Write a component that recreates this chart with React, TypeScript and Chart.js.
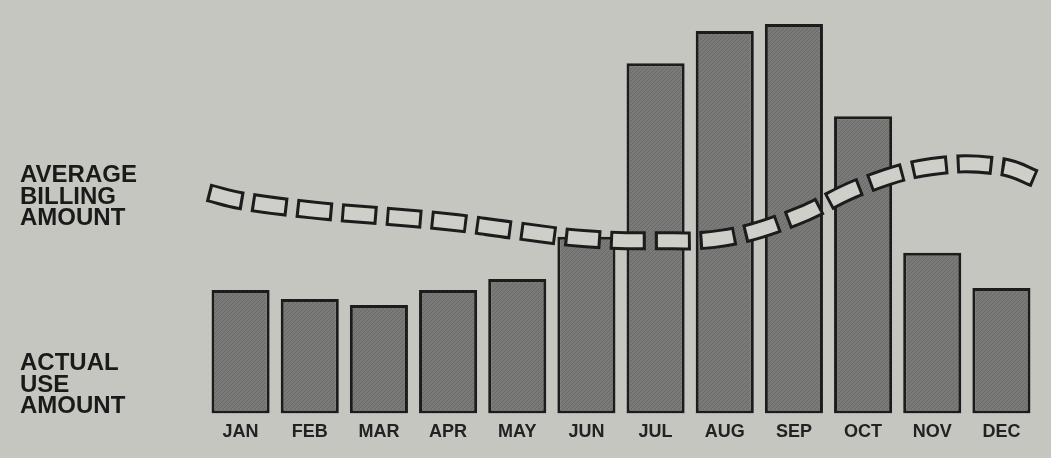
import React, { useEffect, useRef } from "react";
import { Chart, registerables } from "chart.js";

Chart.register(...registerables);

const months = ["JAN", "FEB", "MAR", "APR", "MAY", "JUN", "JUL", "AUG", "SEP", "OCT", "NOV", "DEC"];
const actualUse = [123, 114, 108, 123, 134, 176, 349, 381, 388, 296, 160, 125];
const billingX = [-0.47, 0, 1, 2, 3, 4, 5, 6, 7, 8, 9, 10, 11, 11.56];
const billingY = [220, 212, 203, 197, 191, 182, 174, 172, 175, 195, 227, 246, 246, 232];
const topLabel = ["AVERAGE", "BILLING", "AMOUNT"];
const bottomLabel = ["ACTUAL", "USE", "AMOUNT"];

const BG = "#c6c6c0";
const INK = "#1c1c1c";

function makeHatch(): CanvasPattern | string {
  const c = document.createElement("canvas");
  c.width = 4;
  c.height = 4;
  const g = c.getContext("2d");
  if (!g) return "#777775";
  g.fillStyle = "#7a7a78";
  g.fillRect(0, 0, 4, 4);
  g.fillStyle = "#6a6a68";
  for (let i = 0; i < 4; i++) g.fillRect(i, 3 - i, 1, 1);
  const p = g.createPattern(c, "repeat");
  return p || "#777775";
}

export default function App() {
  const ref = useRef<HTMLCanvasElement | null>(null);

  useEffect(() => {
    if (!ref.current) return;
    const barPts = actualUse.map((v, i) => ({ x: i, y: v }));
    const linePts = billingX.map((x, i) => ({ x, y: billingY[i] }));
    const chart = new Chart(ref.current, {
      type: "bar",
      data: {
        datasets: [
          {
            type: "bar",
            data: barPts,
            backgroundColor: makeHatch(),
            borderColor: INK,
            borderWidth: 3,
            borderSkipped: false,
            barPercentage: 0.84,
            categoryPercentage: 1,
            grouped: false,
            order: 3,
          } as any,
          {
            type: "line",
            data: linePts,
            borderColor: INK,
            borderWidth: 19,
            borderDash: [36, 9],
            borderCapStyle: "butt",
            pointRadius: 0,
            tension: 0.4,
            fill: false,
            clip: false,
            order: 2,
          } as any,
          {
            type: "line",
            data: linePts,
            borderColor: "#cfcfc9",
            borderWidth: 13,
            borderDash: [30, 15],
            borderDashOffset: -3,
            borderCapStyle: "butt",
            pointRadius: 0,
            tension: 0.4,
            fill: false,
            clip: false,
            order: 1,
          } as any,
        ],
      },
      options: {
        animation: false,
        responsive: false,
        events: [],
        layout: { padding: { left: 206, right: 15, top: 20, bottom: 7 } },
        plugins: { legend: { display: false }, tooltip: { enabled: false } },
        scales: {
          x: {
            type: "linear",
            min: -0.5,
            max: 11.5,
            offset: false,
            afterBuildTicks: (scale: any) => {
              scale.ticks = months.map((_, i) => ({ value: i }));
            },
            grid: { display: false, drawTicks: false },
            border: { display: false },
            ticks: {
              color: "#222",
              padding: 8,
              maxRotation: 0,
              autoSkip: false,
              callback: (v: any) => months[Math.round(Number(v))] ?? "",
              font: { family: "'Liberation Sans', Arial, sans-serif", weight: "bold", size: 18 },
            },
          },
          y: {
            display: false,
            min: 0,
            max: 392,
          },
        },
      } as any,
    });
    return () => chart.destroy();
  }, []);

  const labelStyle: React.CSSProperties = {
    position: "absolute",
    left: 20,
    fontFamily: "'Liberation Sans', Arial, sans-serif",
    fontWeight: "bold",
    fontSize: 24,
    lineHeight: "21.5px",
    color: "#1a1a1a",
    whiteSpace: "nowrap",
  };

  return (
    <div
      style={{
        position: "fixed",
        left: 0,
        top: 0,
        width: 1051,
        height: 458,
        background: BG,
        overflow: "hidden",
      }}
    >
      <canvas ref={ref} width={1051} height={458} style={{ position: "absolute", left: 0, top: 0 }} />
      <div style={{ ...labelStyle, top: 163 }}>
        {topLabel.map((t) => (
          <div key={t}>{t}</div>
        ))}
      </div>
      <div style={{ ...labelStyle, top: 351 }}>
        {bottomLabel.map((t) => (
          <div key={t}>{t}</div>
        ))}
      </div>
    </div>
  );
}
